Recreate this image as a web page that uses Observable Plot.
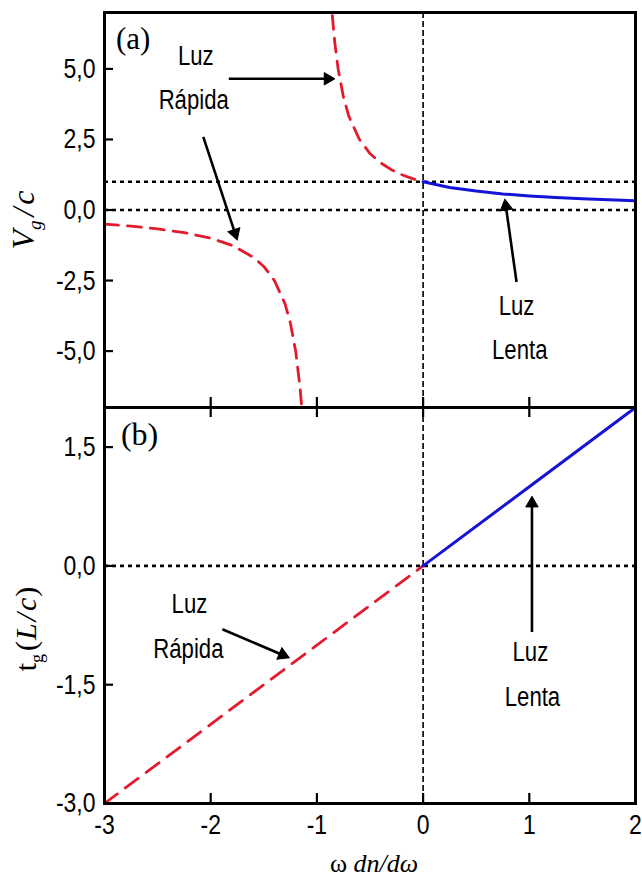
<!DOCTYPE html>
<html><head><meta charset="utf-8">
<script src="https://cdn.jsdelivr.net/npm/d3@7"></script>
<script src="https://cdn.jsdelivr.net/npm/@observablehq/plot@0.6"></script>
<style>
body{margin:0;background:#fff;}
#wrap{position:relative;width:642px;height:881px;background:#fff;}
#wrap svg{position:absolute;left:0;overflow:visible;}
</style></head><body><div id="wrap"></div>
<script>
// ---- tick values ----
const xTicks = [-3, -2, -1, 0, 1, 2];
const vgTicks = [-5, -2.5, 0, 2.5, 5];
const tgTicks = [-3, -1.5, 0, 1.5];

// ---- panel (a): Vg/c ----
const fastLowX = [-3, -2.75, -2.5, -2.25, -2, -1.8, -1.6, -1.5, -1.4, -1.3, -1.25, -1.2, -1.16, -1.145];
const fastLowY = [-0.5, -0.57, -0.67, -0.8, -1.0, -1.25, -1.67, -2.0, -2.5, -3.33, -4.0, -5.0, -6.25, -6.9];
const fastHighX = [-0.855, -0.83, -0.8, -0.75, -0.7, -0.6, -0.5, -0.4, -0.3, -0.2, -0.1, 0];
const fastHighY = [6.9, 5.88, 5.0, 4.0, 3.33, 2.5, 2.0, 1.67, 1.43, 1.25, 1.11, 1.0];
const slowX = [0, 0.25, 0.5, 0.75, 1, 1.25, 1.5, 1.75, 2];
const slowY = [1.0, 0.8, 0.67, 0.57, 0.5, 0.44, 0.4, 0.36, 0.33];
const refLinesA = [0, 1];

// ---- panel (b): tg ----
const tgFastX = [-3, -2, -1, 0];
const tgFastY = [-3, -2, -1, 0];
const tgSlowX = [0, 1, 2];
const tgSlowY = [0, 1, 2];

// ---- annotations ----
const labelsA = [
  {x: -2.14, y: 5.45, t: "Luz"},
  {x: -2.16, y: 3.87, t: "Rápida"},
  {x: 0.88, y: -3.40, t: "Luz"},
  {x: 0.91, y: -4.96, t: "Lenta"}
];
const arrowsA = [
  {x1: -1.83, y1: 4.65, x2: -0.83, y2: 4.65},
  {x1: -2.07, y1: 2.59, x2: -1.75, y2: -1.06},
  {x1: 0.88, y1: -2.55, x2: 0.77, y2: 0.38}
];
const labelsB = [
  {x: -2.20, y: -0.48, t: "Luz"},
  {x: -2.21, y: -1.05, t: "Rápida"},
  {x: 1.01, y: -1.09, t: "Luz"},
  {x: 1.03, y: -1.66, t: "Lenta"}
];
const arrowsB = [
  {x1: -1.89, y1: -0.80, x2: -1.26, y2: -1.16},
  {x1: 1.025, y1: -0.835, x2: 1.025, y2: 0.88}
];
const panelA = [{x: -2.73, y: 6.06, t: "(a)"}];
const panelB = [{x: -2.67, y: 1.65, t: "(b)"}];

const RED = "#e41b2c", BLUE = "#1414d8";
const SANS = "'Liberation Sans', Arial, sans-serif";
const SERIF = "'Liberation Serif', 'Times New Roman', 'DejaVu Serif', serif";
const fmt1 = d => d.toFixed(1).replace(".", ",");
const fmt0 = d => String(d);
const zip = (xs, ys) => xs.map((x, i) => ({x, y: ys[i]}));

const W = 642, ML = 104, MR = 7;
const HA = 407, MTA = 12, MBA = 0;
const HB = 481, MTB = 7, MBB = 78;
const kx = (W - ML - MR) / 5;
const kyA = (HA - MTA - MBA) / 14;
const kyB = (HB - MTB - MBB) / 5;
const HEAD_R = 4.6;

// filled arrow heads: triangle dots rotated along each arrow, line stops at the head
function heads(arrows, ky) {
  const tip = 2 * Math.sqrt(Math.PI * HEAD_R * HEAD_R / (3 * Math.sqrt(3)));
  return arrows.map(a => {
    const dx = (a.x2 - a.x1) * kx, dy = -(a.y2 - a.y1) * ky;
    const L = Math.hypot(dx, dy), ux = dx / L, uy = dy / L;
    return {
      x1: a.x1, y1: a.y1,
      x: a.x2 - ux * tip / kx, y: a.y2 + uy * tip / ky,
      rotate: Math.atan2(ux, -uy) * 180 / Math.PI
    };
  });
}
const headsA = heads(arrowsA, kyA);
const headsB = heads(arrowsB, kyB);

const common = {
  width: W, marginLeft: ML, marginRight: MR,
  x: {domain: [-3, 2]},
  style: {fontFamily: SANS, fontSize: "28px", background: "transparent", overflow: "visible"}
};
const arrowMarks = h => [
  Plot.link(h, {x1: "x1", y1: "y1", x2: "x", y2: "y", stroke: "black", strokeWidth: 2.6}),
  Plot.dot(h, {x: "x", y: "y", rotate: "rotate", symbol: "triangle", r: HEAD_R, fill: "black", stroke: "black", strokeWidth: 1})
];

const plotA = Plot.plot({
  ...common,
  height: HA, marginTop: MTA, marginBottom: MBA,
  y: {domain: [-7, 7]},
  marks: [
    Plot.ruleY(refLinesA, {stroke: "black", strokeWidth: 2.6, strokeDasharray: "4,4"}),
    Plot.ruleX([0], {stroke: "black", strokeWidth: 1.6, strokeDasharray: "6,3"}),
    Plot.line(zip(fastLowX, fastLowY), {x: "x", y: "y", stroke: RED, strokeWidth: 2.8, strokeDasharray: "14,9", clip: true}),
    Plot.line(zip(fastHighX, fastHighY), {x: "x", y: "y", stroke: RED, strokeWidth: 2.8, strokeDasharray: "14,9", clip: true}),
    Plot.line(zip(slowX, slowY), {x: "x", y: "y", stroke: BLUE, strokeWidth: 3, clip: true}),
    ...arrowMarks(headsA),
    Plot.text(labelsA, {x: "x", y: "y", text: "t", fontSize: 27, fill: "black"}),
    Plot.text(panelA, {x: "x", y: "y", text: "t", fontSize: 31, fontFamily: SERIF, fill: "black"}),
    Plot.axisY({ticks: vgTicks, tickSize: 0, tickPadding: 9, tickFormat: fmt1, label: null}),
    Plot.axisY({ticks: vgTicks, tickSize: -9, tickFormat: () => "", strokeWidth: 2.2, label: null}),
    Plot.axisX({anchor: "bottom", ticks: xTicks, tickSize: -10, tickFormat: () => "", strokeWidth: 2.2, label: null}),
    Plot.frame({stroke: "black", strokeWidth: 3})
  ]
});

const plotB = Plot.plot({
  ...common,
  height: HB, marginTop: MTB, marginBottom: MBB,
  y: {domain: [-3, 2]},
  marks: [
    Plot.ruleY([0], {stroke: "black", strokeWidth: 2.6, strokeDasharray: "4,4"}),
    Plot.ruleX([0], {stroke: "black", strokeWidth: 1.6, strokeDasharray: "6,3"}),
    Plot.line(zip(tgFastX, tgFastY), {x: "x", y: "y", stroke: RED, strokeWidth: 2.8, strokeDasharray: "16,10"}),
    Plot.line(zip(tgSlowX, tgSlowY), {x: "x", y: "y", stroke: BLUE, strokeWidth: 3}),
    ...arrowMarks(headsB),
    Plot.text(labelsB, {x: "x", y: "y", text: "t", fontSize: 27, fill: "black"}),
    Plot.text(panelB, {x: "x", y: "y", text: "t", fontSize: 32, fontFamily: SERIF, fill: "black"}),
    Plot.axisY({ticks: tgTicks, tickSize: 0, tickPadding: 9, tickFormat: fmt1, label: null}),
    Plot.axisY({ticks: tgTicks, tickSize: -9, tickFormat: () => "", strokeWidth: 2.2, label: null}),
    Plot.axisX({anchor: "bottom", ticks: xTicks, tickSize: 0, tickPadding: 11, tickFormat: fmt0, label: null}),
    Plot.axisX({anchor: "bottom", ticks: xTicks, tickSize: -10, tickFormat: () => "", strokeWidth: 2.2, label: null}),
    Plot.axisX({anchor: "top", ticks: xTicks, tickSize: -9, tickFormat: () => "", strokeWidth: 2.2, label: null}),
    Plot.frame({stroke: "black", strokeWidth: 3})
  ]
});

const wrap = document.getElementById("wrap");
plotA.style.top = "0px";
plotB.style.top = "400px";
wrap.appendChild(plotB);
wrap.appendChild(plotA);

// narrow the sans text (Arial Narrow look) by compressing glyph widths
for (const svg of [plotA, plotB]) {
  svg.querySelectorAll("text").forEach(el => {
    const ff = getComputedStyle(el).fontFamily;
    if (!/Liberation Sans/.test(ff)) return;
    const len = el.getComputedTextLength();
    if (len > 0) {
      el.setAttribute("textLength", (len * 0.82).toFixed(2));
      el.setAttribute("lengthAdjust", "spacingAndGlyphs");
    }
  });
}

// ---- axis titles ----
function title(svg, tx, ty, rot, size, parts) {
  const t = d3.select(svg).append("text")
    .attr("transform", `translate(${tx},${ty}) rotate(${rot})`)
    .attr("text-anchor", "middle")
    .attr("font-family", SERIF)
    .attr("font-size", size)
    .attr("fill", "black");
  parts.forEach(p => {
    const s = t.append("tspan").text(p.s);
    if (p.i) s.attr("font-style", "italic");
    if (p.fs) s.attr("font-size", p.fs);
    if (p.dy) s.attr("dy", p.dy);
    if (p.dx) s.attr("dx", p.dx);
  });
}
title(plotA, 34, 220, -90, 32, [
  {s: "V", i: true},
  {s: "g", i: true, fs: 19, dy: 7},
  {s: "/", i: true, dy: -7, dx: 4},
  {s: "c", i: true, dx: 3}
]);
title(plotB, 36, 229, -90, 30, [
  {s: "t"},
  {s: "g", fs: 18, dy: 7},
  {s: "(", dy: -7, dx: 3},
  {s: "L", i: true, dx: 1},
  {s: "/", i: true, dx: 2},
  {s: "c", i: true, dx: 2},
  {s: ")", dx: 1}
]);
title(plotB, 374, 472, 0, 26, [
  {s: "ω "},
  {s: "dn/dω", i: true}
]);
</script></body></html>
